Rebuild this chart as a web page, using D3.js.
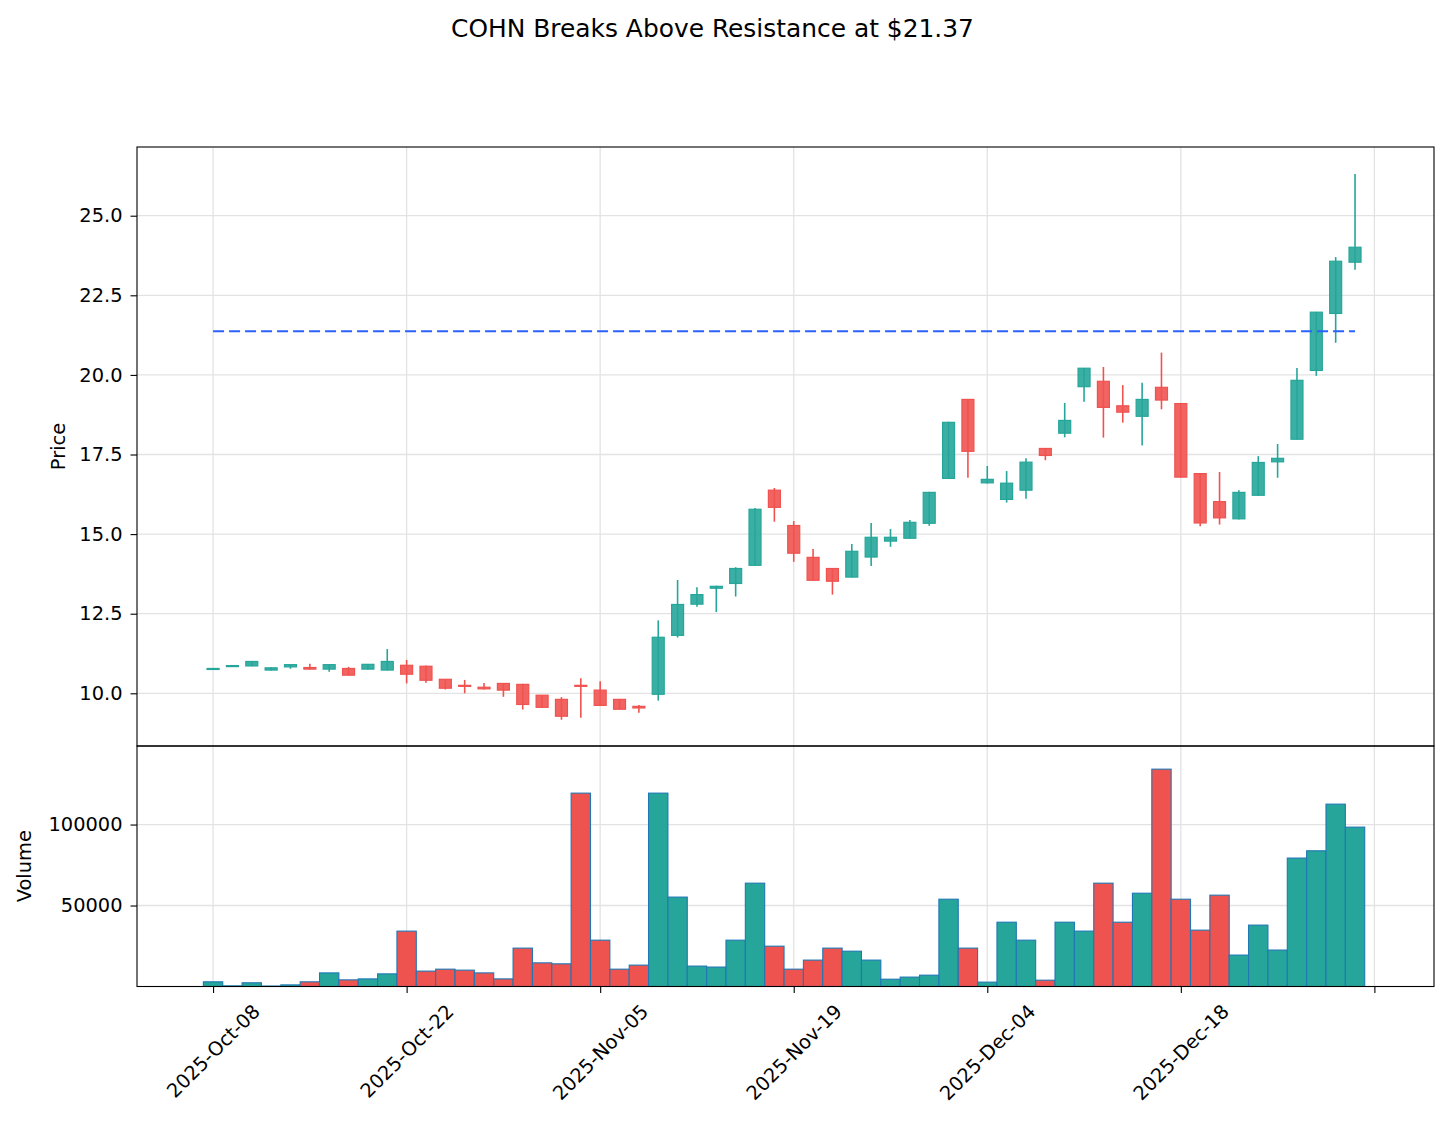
<!DOCTYPE html>
<html>
<head>
<meta charset="utf-8">
<script src="https://cdn.jsdelivr.net/npm/d3@7"></script>
<style>
  body { margin: 0; background: #fff; }
  svg { font-family: "DejaVu Sans", sans-serif; }
</style>
</head>
<body>
<svg id="chart" width="1448" height="1126"></svg>
<script>
// ---- data ----
const opens  = [10.76,10.84,10.86,10.73,10.83,10.81,10.76,10.78,10.76,10.73,
                10.88,10.85,10.44,10.25,10.19,10.31,10.28,9.94,9.81,10.25,
                10.10,9.81,9.59,9.97,11.82,12.80,13.30,13.45,14.02,16.38,
                15.27,14.27,13.92,13.65,14.28,14.78,14.87,15.34,16.75,19.23,
                16.61,16.09,16.38,17.69,18.17,19.63,19.80,19.03,18.70,19.61,
                19.10,16.90,16.02,15.48,16.22,17.27,17.98,20.14,21.93,23.54];
const highs  = [10.79,10.88,11.01,10.81,10.91,10.93,10.91,10.83,10.92,11.39,
                11.05,10.87,10.45,10.42,10.32,10.32,10.30,9.95,9.88,10.47,
                10.38,9.82,9.63,12.29,13.56,13.33,13.38,13.96,15.82,16.45,
                15.41,14.53,13.93,14.69,15.35,15.16,15.44,16.33,18.53,19.24,
                17.14,16.98,17.38,17.70,19.12,20.22,20.25,19.68,19.75,20.70,
                19.11,16.91,16.95,16.38,17.45,17.83,20.22,21.98,23.70,26.31];
const lows   = [10.75,10.83,10.85,10.72,10.77,10.75,10.68,10.57,10.75,10.72,
                10.31,10.33,10.12,10.00,10.12,9.89,9.49,9.55,9.17,9.23,
                9.60,9.49,9.39,9.77,11.75,12.72,12.55,13.04,14.00,15.39,
                14.13,13.55,13.10,13.64,14.00,14.60,14.86,15.26,16.74,16.77,
                16.59,15.99,16.11,17.32,18.04,19.16,18.03,18.50,17.78,18.92,
                16.78,15.25,15.30,15.46,16.20,16.77,17.97,19.97,21.01,23.30];
const closes = [10.78,10.87,11.00,10.80,10.90,10.76,10.90,10.57,10.91,11.00,
                10.60,10.41,10.16,10.23,10.14,10.10,9.65,9.56,9.28,10.23,
                9.62,9.50,9.54,11.76,12.79,13.10,13.36,13.92,15.78,15.84,
                14.40,13.55,13.52,14.46,14.90,14.90,15.37,16.31,18.51,17.60,
                16.72,16.60,17.26,17.47,18.57,20.21,18.98,18.83,19.23,19.21,
                16.79,15.35,15.51,16.31,17.25,17.38,19.83,21.97,23.57,24.01];
const volumes = [2900,400,2300,300,1000,2900,8400,4100,4700,7800,
                 34200,9500,10700,10100,8400,4700,23700,14600,14000,119400,
                 28600,10700,13200,119400,55200,12600,12000,28600,63800,24900,
                 10700,16300,23700,21800,16300,4500,5800,7000,53900,23700,
                 2700,39700,28600,3900,39700,34200,63800,39700,57600,134200,
                 53900,34800,56400,19400,37900,22500,79300,83800,112600,98400];
const resistance = 21.37;
const xTickIdx    = [0,10,20,30,40,50,60];
const xTickLabels = ["2025-Oct-08","2025-Oct-22","2025-Nov-05","2025-Nov-19","2025-Dec-04","2025-Dec-18",""];
const priceTicks  = [10.0,12.5,15.0,17.5,20.0,22.5,25.0];
const volumeTicks = [50000,100000];
const titleText = "COHN Breaks Above Resistance at $21.37";

// ---- layout ----
const L = 137, R = 1434, pTop = 147, pBot = 746, vTop = 746, vBot = 986.5;
const UP = "#26a69a", DOWN = "#ef5350", GRID = "#e3e3e3";
const FS = 19.4;
const svg = d3.select("#chart");

const x = d3.scaleLinear().domain([-3.93, 63.08]).range([L, R]);
const yP = d3.scaleLinear().domain([8.345, 27.158]).range([pBot, pTop]);
const yV = d3.scaleLinear().domain([0, 148500]).range([vBot, vTop]);
const unit = x(1) - x(0);

const data = opens.map((o, i) => ({i, o, h: highs[i], l: lows[i], c: closes[i], v: volumes[i], up: closes[i] >= o}));

const defs = svg.append("defs");
defs.append("clipPath").attr("id", "clipP").append("rect").attr("x", L).attr("y", pTop).attr("width", R - L).attr("height", pBot - pTop);
defs.append("clipPath").attr("id", "clipV").append("rect").attr("x", L).attr("y", vTop).attr("width", R - L).attr("height", vBot - vTop);

// ---- grids ----
const gP = svg.append("g").attr("clip-path", "url(#clipP)");
const gV = svg.append("g").attr("clip-path", "url(#clipV)");
[gP, gV].forEach((g, k) => {
  g.selectAll("line.xg").data(xTickIdx).join("line")
    .attr("x1", d => x(d)).attr("x2", d => x(d))
    .attr("y1", k ? vTop : pTop).attr("y2", k ? vBot : pBot)
    .attr("stroke", GRID).attr("stroke-width", 1.3);
});
gP.selectAll("line.yg").data(priceTicks).join("line")
  .attr("x1", L).attr("x2", R).attr("y1", d => yP(d)).attr("y2", d => yP(d))
  .attr("stroke", GRID).attr("stroke-width", 1.3);
gV.selectAll("line.yg").data(volumeTicks).join("line")
  .attr("x1", L).attr("x2", R).attr("y1", d => yV(d)).attr("y2", d => yV(d))
  .attr("stroke", GRID).attr("stroke-width", 1.3);

// ---- candles ----
const bw = unit * 0.62;
gP.selectAll("line.wick").data(data).join("line")
  .attr("x1", d => x(d.i)).attr("x2", d => x(d.i))
  .attr("y1", d => yP(d.h)).attr("y2", d => yP(d.l))
  .attr("stroke", d => d.up ? UP : DOWN).attr("stroke-width", 1.6);
gP.selectAll("rect.body").data(data).join("rect")
  .attr("x", d => x(d.i) - bw / 2).attr("width", bw)
  .attr("y", d => yP(Math.max(d.o, d.c)))
  .attr("height", d => Math.max(1, Math.abs(yP(d.o) - yP(d.c))))
  .attr("fill", d => d.up ? UP : DOWN).attr("fill-opacity", 0.9)
  .attr("stroke", d => d.up ? UP : DOWN).attr("stroke-width", 1.2);

// resistance line
gP.append("line")
  .attr("x1", x(0)).attr("x2", x(data.length - 1))
  .attr("y1", yP(resistance)).attr("y2", yP(resistance))
  .attr("stroke", "#2962ff").attr("stroke-width", 2).attr("stroke-dasharray", "11,5");

// ---- volume ----
gV.selectAll("rect.vol").data(data).join("rect")
  .attr("x", d => x(d.i - 0.5)).attr("width", unit)
  .attr("y", d => yV(d.v)).attr("height", d => yV(0) - yV(d.v))
  .attr("fill", d => d.up ? UP : DOWN)
  .attr("stroke", "#1f77b4").attr("stroke-width", 1.1);

// ---- axes frames ----
svg.append("rect").attr("x", L).attr("y", pTop).attr("width", R - L).attr("height", pBot - pTop)
  .attr("fill", "none").attr("stroke", "#000").attr("stroke-width", 1.1);
svg.append("rect").attr("x", L).attr("y", vTop).attr("width", R - L).attr("height", vBot - vTop)
  .attr("fill", "none").attr("stroke", "#000").attr("stroke-width", 1.1);

// y axes
const axP = svg.append("g").attr("transform", `translate(${L},0)`)
  .call(d3.axisLeft(yP).tickValues(priceTicks).tickFormat(d3.format(".1f")).tickSize(6.5).tickPadding(8));
const axV = svg.append("g").attr("transform", `translate(${L},0)`)
  .call(d3.axisLeft(yV).tickValues(volumeTicks).tickFormat(d3.format("d")).tickSize(6.5).tickPadding(8));
[axP, axV].forEach(a => {
  a.select(".domain").remove();
  a.selectAll("text").attr("font-size", FS + "px").attr("fill", "#000").attr("font-family", "DejaVu Sans");
  a.selectAll("line").attr("stroke", "#000").attr("stroke-width", 1.1);
});

// x axis
const axX = svg.append("g").attr("transform", `translate(0,${vBot})`)
  .call(d3.axisBottom(x).tickValues(xTickIdx).tickFormat((d, i) => xTickLabels[i]).tickSize(6.5).tickPadding(4));
axX.select(".domain").remove();
axX.selectAll("line").attr("stroke", "#000").attr("stroke-width", 1.1);
axX.selectAll("text")
  .attr("font-size", FS + "px").attr("font-family", "DejaVu Sans").attr("fill", "#000")
  .attr("text-anchor", "middle").attr("dominant-baseline", "central")
  .attr("dy", null).attr("y", 0)
  .each(function() {
    const len = this.getComputedTextLength();
    const H = FS * 1.17;
    const bbH = (len + H) / Math.SQRT2;
    const top = 13.6;
    d3.select(this).attr("transform", `translate(0,${top + bbH / 2}) rotate(-45)`);
  });

// labels
svg.append("text").attr("transform", `translate(58.5,${(pTop + pBot) / 2}) rotate(-90)`)
  .attr("text-anchor", "middle").attr("dominant-baseline", "central").attr("font-size", FS + "px").text("Price");
svg.append("text").attr("transform", `translate(24,${(vTop + vBot) / 2}) rotate(-90)`)
  .attr("text-anchor", "middle").attr("dominant-baseline", "central").attr("font-size", FS + "px").text("Volume");
svg.append("text").attr("x", 712.5).attr("y", 36.5).attr("text-anchor", "middle")
  .attr("font-size", "24.9px").text(titleText);
</script>
</body>
</html>
